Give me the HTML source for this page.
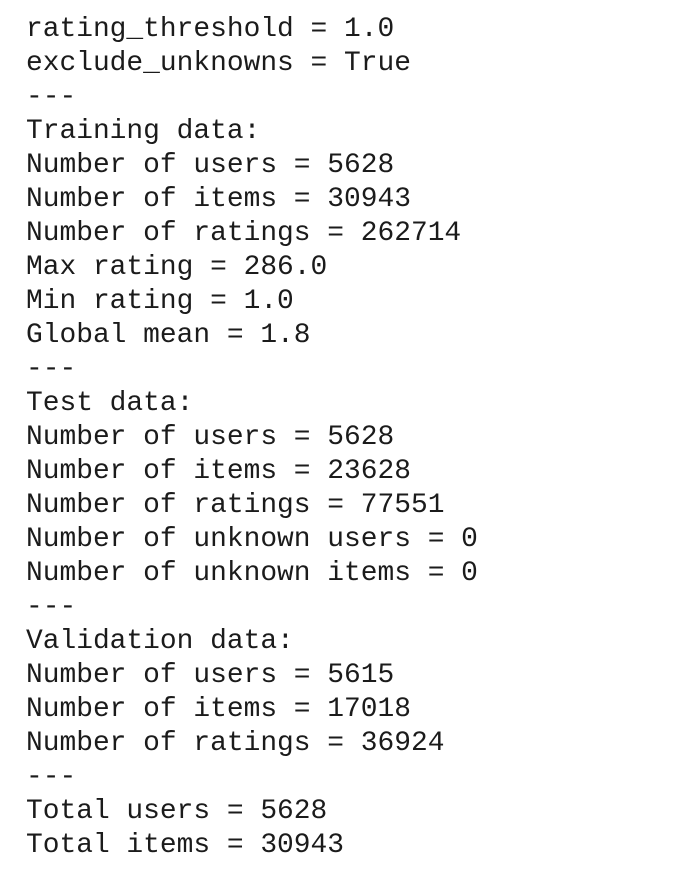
<!DOCTYPE html>
<html><head><meta charset="utf-8"><style>
html,body{margin:0;padding:0;background:#fff;width:696px;height:882px;overflow:hidden}
pre{margin:0;position:absolute;left:26px;top:13px;font-family:"Liberation Mono","DejaVu Sans Mono",monospace;font-size:27.9px;line-height:34px;color:#1b1b1b;white-space:pre}
</style></head><body>
<pre>rating_threshold = 1.0
exclude_unknowns = True
---
Training data:
Number of users = 5628
Number of items = 30943
Number of ratings = 262714
Max rating = 286.0
Min rating = 1.0
Global mean = 1.8
---
Test data:
Number of users = 5628
Number of items = 23628
Number of ratings = 77551
Number of unknown users = 0
Number of unknown items = 0
---
Validation data:
Number of users = 5615
Number of items = 17018
Number of ratings = 36924
---
Total users = 5628
Total items = 30943</pre>
</body></html>
